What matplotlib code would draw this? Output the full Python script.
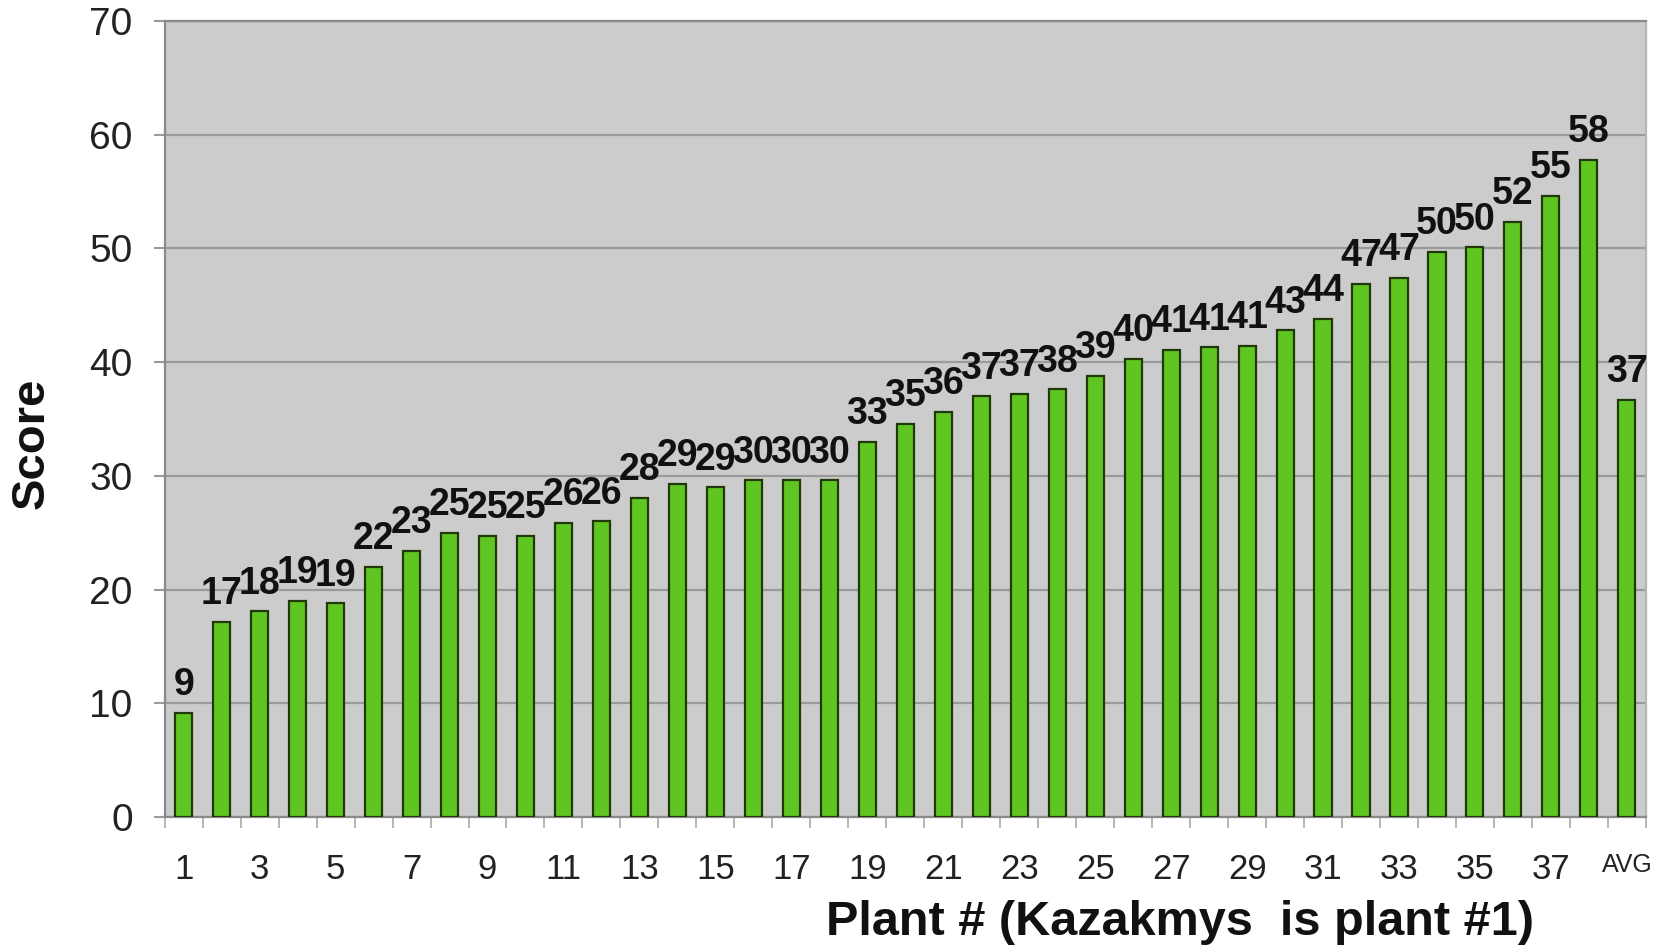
import matplotlib
matplotlib.use("Agg")
import matplotlib.pyplot as plt
import numpy as np

plt.rcParams['font.family'] = ['Liberation Sans', 'DejaVu Sans']

categories = [str(i) for i in range(1, 39)] + ["AVG"]
scores = [9.2, 17.2, 18.1, 19.0, 18.8, 22.0, 23.4, 25.0, 24.7, 24.7,
          25.9, 26.0, 28.1, 29.3, 29.0, 29.6, 29.6, 29.6, 33.0, 34.6,
          35.6, 37.0, 37.2, 37.6, 38.8, 40.3, 41.1, 41.3, 41.4, 42.8,
          43.8, 46.9, 47.4, 49.7, 50.1, 52.3, 54.6, 57.8, 36.7]
yticks = [0, 10, 20, 30, 40, 50, 60, 70]

fig = plt.figure(figsize=(16.65, 9.48), dpi=100)
ax = fig.add_axes([0.0989, 0.138, 0.9885 - 0.0989, 0.978 - 0.138])
ax.set_facecolor('#cccccc')

x = np.arange(len(categories))
ax.bar(x, scores, width=0.45, color='#5fc520', edgecolor='#1f3a08',
       linewidth=1.6, zorder=3)

for xi, v in zip(x, scores):
    ax.annotate(f"{v:.0f}", (xi, v), xytext=(0, 7), textcoords='offset points',
                ha='center', va='bottom', fontsize=27, fontweight='bold',
                color='#111111', zorder=4)

ax.set_xlim(-0.5, len(categories) - 0.5)
ax.set_ylim(0, 70)
ax.set_yticks(yticks)
ax.yaxis.grid(True, color='#9a9a9a', linewidth=1.6, zorder=0)
ax.set_axisbelow(True)
ax.tick_params(axis='y', length=8, color='#9a9a9a', width=1.5, pad=15,
               labelsize=28, labelcolor='#222222')

labels = [c if (i % 2 == 0) else '' for i, c in enumerate(categories)]
ax.set_xticks(x)
ax.set_xticklabels(labels)
ax.tick_params(axis='x', which='major', length=0, pad=26, labelsize=25,
               labelcolor='#222222')
ax.set_xticks(np.arange(-0.5, len(categories)), minor=True)
ax.tick_params(axis='x', which='minor', length=8, color='#aaaaaa', width=1.2)
for lbl in ax.get_xticklabels():
    if lbl.get_text() == 'AVG':
        lbl.set_fontsize(18)

for s in ax.spines.values():
    s.set_color('#8a8a8a')
    s.set_linewidth(1.6)
ax.spines['right'].set_color('#b5b5b5')

fig.text(0.709, 0.027, "Plant # (Kazakmys  is plant #1)", ha='center', va='center',
         fontsize=35, fontweight='bold', color='#111111')
fig.text(0.019, 0.532, "Score", ha='center', va='center', rotation=90,
         fontsize=34, fontweight='bold', color='#111111')

fig.savefig('out.png', dpi=100, facecolor='white')
